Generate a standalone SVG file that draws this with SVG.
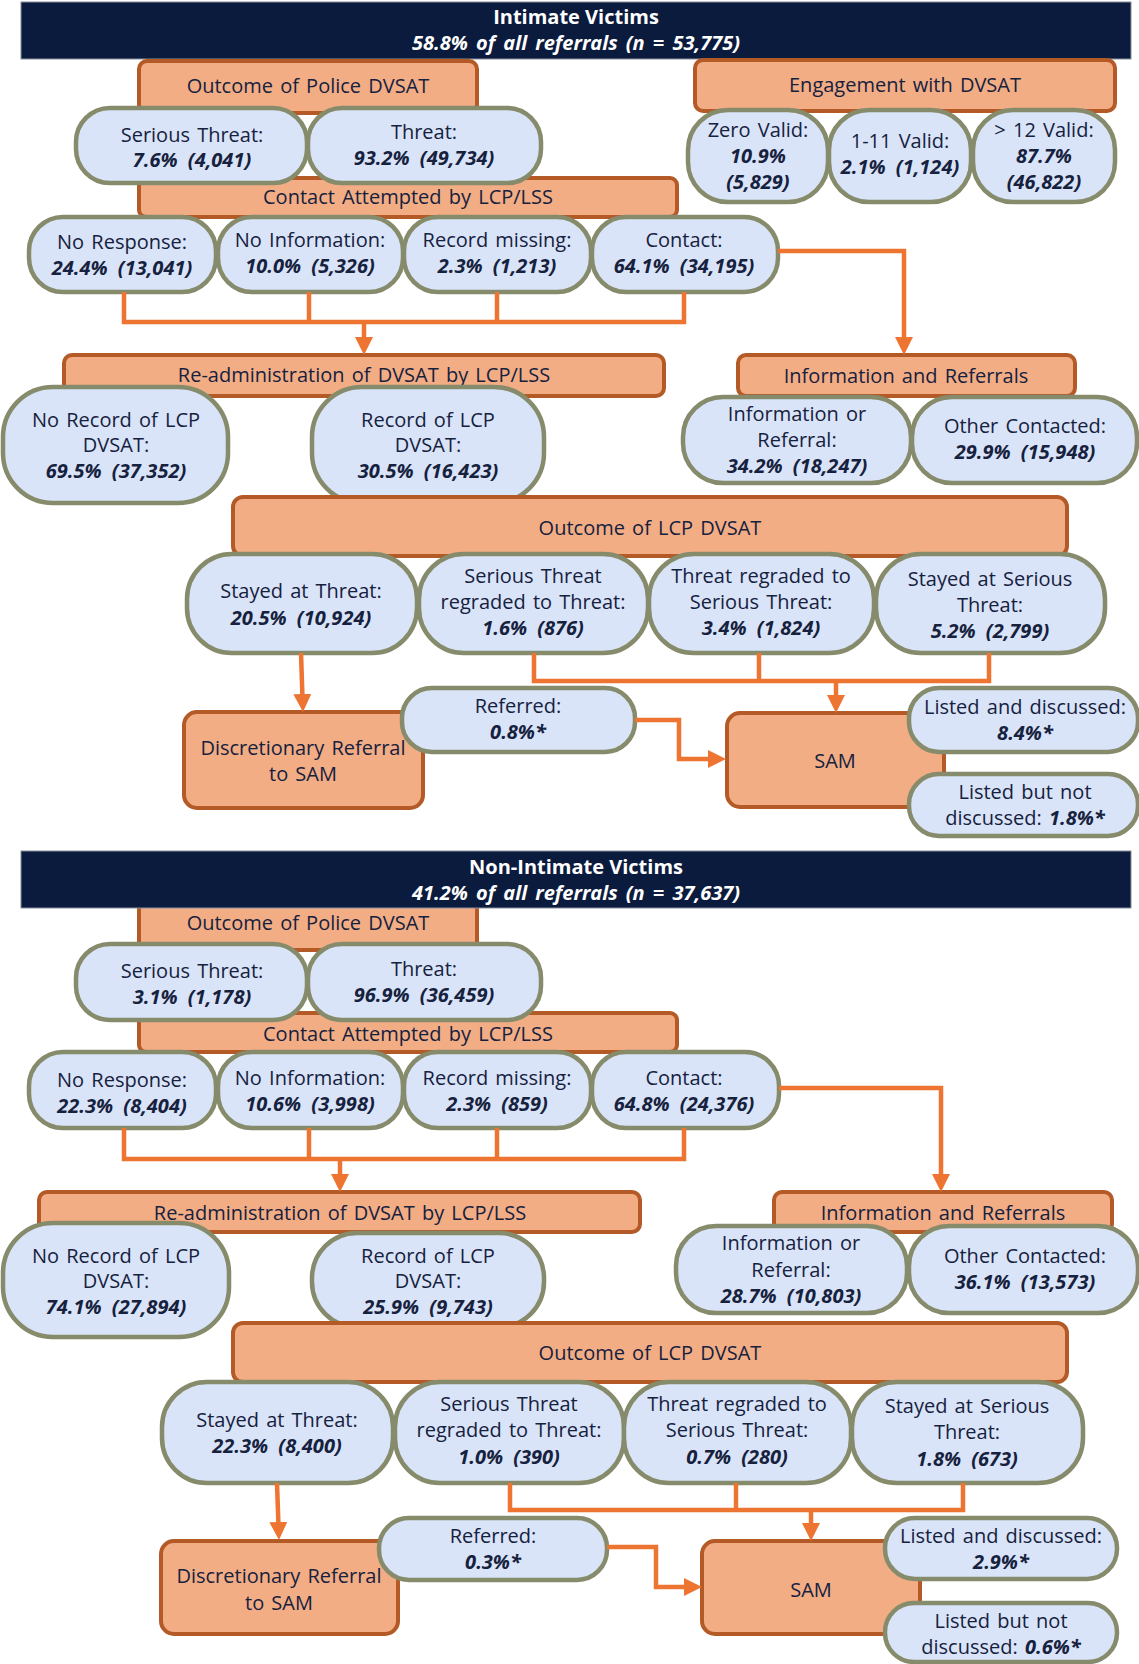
<svg xmlns="http://www.w3.org/2000/svg" width="1139" height="1664" viewBox="0 0 1139 1664">
<style>
.bg{fill:#ffffff}
.ban{fill:#0b1b3d;stroke:#8a909c;stroke-width:1}
.bt{font-family:"Open Sans","Noto Sans",sans-serif;font-size:20px;font-weight:bold;fill:#ffffff;text-anchor:middle}
.bi{font-style:italic;word-spacing:3px}
.box{fill:#f2ad85;stroke:#b35a27;stroke-width:4}
.pill{fill:#d9e4f8;stroke:#868b6b;stroke-width:4.5}
.t{font-family:"Open Sans","Noto Sans",sans-serif;font-size:20px;fill:#16213e;text-anchor:middle;word-spacing:2px}
.v{font-weight:bold;font-style:italic;word-spacing:5px}
.conn{fill:none;stroke:#ed7431;stroke-width:4.5;stroke-linejoin:miter}
</style>
<defs>
<marker id="ah" viewBox="0 0 18 18" refX="1" refY="9" markerWidth="18" markerHeight="18" markerUnits="userSpaceOnUse" orient="auto">
<path d="M0,0 L18,9 L0,18 z" fill="#ed7431"/>
</marker>
</defs>
<rect class="bg" x="0" y="0" width="1139" height="1664"/>

<!-- ===== Intimate Victims ===== -->
<g id="banner1">
<rect class="ban" x="21" y="2" width="1110" height="57"/>
<text class="bt" x="576" y="24">Intimate Victims</text>
<text class="bt bi" x="576" y="50">58.8% of all referrals (n = 53,775)</text>
</g>

<g id="n1-outcome-police"><rect class="box" x="139" y="61" width="338" height="52" rx="8"/><text class="t" x="308" y="93">Outcome of Police DVSAT</text></g>
<g id="n1-engagement"><rect class="box" x="695" y="60" width="420" height="51" rx="8"/><text class="t" x="905" y="92">Engagement with DVSAT</text></g>
<g id="n1-contact-attempted"><rect class="box" x="139" y="178" width="538" height="39" rx="7"/><text class="t" x="408" y="204">Contact Attempted by LCP/LSS</text></g>

<g id="n1-serious-threat"><rect class="pill" x="76" y="108" width="231" height="75" rx="34"/><text class="t" x="192" y="142">Serious Threat:</text><text class="t v" x="192" y="167">7.6% (4,041)</text></g>
<g id="n1-threat"><rect class="pill" x="308" y="108" width="233" height="75" rx="34"/><text class="t" x="424" y="139">Threat:</text><text class="t v" x="424" y="165">93.2% (49,734)</text></g>

<g id="n1-zero-valid"><rect class="pill" x="688" y="110" width="140" height="92" rx="40"/><text class="t" x="758" y="137">Zero Valid:</text><text class="t v" x="758" y="163">10.9%</text><text class="t v" x="758" y="189">(5,829)</text></g>
<g id="n1-1-11-valid"><rect class="pill" x="829" y="110" width="142" height="92" rx="40"/><text class="t" x="900" y="148">1-11 Valid:</text><text class="t v" x="900" y="174">2.1% (1,124)</text></g>
<g id="n1-12-valid"><rect class="pill" x="973" y="110" width="142" height="92" rx="40"/><text class="t" x="1044" y="137">&gt; 12 Valid:</text><text class="t v" x="1044" y="163">87.7%</text><text class="t v" x="1044" y="189">(46,822)</text></g>

<g id="n1-no-response"><rect class="pill" x="29" y="217" width="187" height="75" rx="34"/><text class="t" x="122" y="249">No Response:</text><text class="t v" x="122" y="275">24.4% (13,041)</text></g>
<g id="n1-no-information"><rect class="pill" x="218" y="217" width="185" height="75" rx="34"/><text class="t" x="310" y="247">No Information:</text><text class="t v" x="310" y="273">10.0% (5,326)</text></g>
<g id="n1-record-missing"><rect class="pill" x="404" y="217" width="187" height="75" rx="34"/><text class="t" x="497" y="247">Record missing:</text><text class="t v" x="497" y="273">2.3% (1,213)</text></g>
<g id="n1-contact"><rect class="pill" x="592" y="217" width="186" height="75" rx="34"/><text class="t" x="684" y="247">Contact:</text><text class="t v" x="684" y="273">64.1% (34,195)</text></g>

<g id="n1-readmin"><rect class="box" x="64" y="355" width="600" height="41" rx="8"/><text class="t" x="364" y="382">Re-administration of DVSAT by LCP/LSS</text></g>
<g id="n1-info-ref"><rect class="box" x="738" y="355" width="337" height="41" rx="8"/><text class="t" x="906" y="383">Information and Referrals</text></g>

<g id="n1-no-record"><rect class="pill" x="3" y="387" width="225" height="116" rx="50"/><text class="t" x="116" y="427">No Record of LCP</text><text class="t" x="116" y="452">DVSAT:</text><text class="t v" x="116" y="478">69.5% (37,352)</text></g>
<g id="n1-record"><rect class="pill" x="312" y="387" width="232" height="116" rx="50"/><text class="t" x="428" y="427">Record of LCP</text><text class="t" x="428" y="452">DVSAT:</text><text class="t v" x="428" y="478">30.5% (16,423)</text></g>
<g id="n1-info-or-ref"><rect class="pill" x="683" y="397" width="228" height="86" rx="40"/><text class="t" x="797" y="421">Information or</text><text class="t" x="797" y="447">Referral:</text><text class="t v" x="797" y="473">34.2% (18,247)</text></g>
<g id="n1-other-contacted"><rect class="pill" x="912" y="397" width="225" height="86" rx="40"/><text class="t" x="1025" y="433">Other Contacted:</text><text class="t v" x="1025" y="459">29.9% (15,948)</text></g>

<g id="n1-outcome-lcp"><rect class="box" x="233" y="497" width="834" height="59" rx="10"/><text class="t" x="650" y="535">Outcome of LCP DVSAT</text></g>

<g id="n1-stayed-threat"><rect class="pill" x="187" y="554" width="230" height="99" rx="45"/><text class="t" x="301" y="598">Stayed at Threat:</text><text class="t v" x="301" y="625">20.5% (10,924)</text></g>
<g id="n1-st-regraded"><rect class="pill" x="419" y="554" width="229" height="99" rx="45"/><text class="t" x="533" y="583">Serious Threat</text><text class="t" x="533" y="609">regraded to Threat:</text><text class="t v" x="533" y="635">1.6% (876)</text></g>
<g id="n1-t-regraded"><rect class="pill" x="649" y="554" width="225" height="99" rx="45"/><text class="t" x="761" y="583">Threat regraded to</text><text class="t" x="761" y="609">Serious Threat:</text><text class="t v" x="761" y="635">3.4% (1,824)</text></g>
<g id="n1-stayed-serious"><rect class="pill" x="876" y="554" width="229" height="99" rx="45"/><text class="t" x="990" y="586">Stayed at Serious</text><text class="t" x="990" y="612">Threat:</text><text class="t v" x="990" y="638">5.2% (2,799)</text></g>

<g id="n1-discretionary"><rect class="box" x="184" y="712" width="239" height="96" rx="13"/><text class="t" x="303" y="755">Discretionary Referral</text><text class="t" x="303" y="781">to SAM</text></g>
<g id="n1-sam"><rect class="box" x="727" y="713" width="217" height="94" rx="13"/><text class="t" x="835" y="768">SAM</text></g>
<g id="n1-referred"><rect class="pill" x="402" y="688" width="233" height="64" rx="30"/><text class="t" x="518" y="713">Referred:</text><text class="t v" x="518" y="739">0.8%*</text></g>
<g id="n1-listed-discussed"><rect class="pill" x="909" y="688" width="229" height="64" rx="30"/><text class="t" x="1025" y="714">Listed and discussed:</text><text class="t v" x="1025" y="740">8.4%*</text></g>
<g id="n1-listed-not"><rect class="pill" x="909" y="774" width="229" height="62" rx="30"/><text class="t" x="1025" y="799">Listed but not</text><text class="t" x="1025" y="825">discussed: <tspan class="v">1.8%*</tspan></text></g>

<!-- ===== Non-Intimate Victims ===== -->
<g id="n2-outcome-police"><rect class="box" x="139" y="895" width="338" height="55" rx="8"/><text class="t" x="308" y="930">Outcome of Police DVSAT</text></g>
<g id="banner2">
<rect class="ban" x="21" y="851" width="1110" height="57"/>
<text class="bt" x="576" y="874">Non-Intimate Victims</text>
<text class="bt bi" x="576" y="900">41.2% of all referrals (n = 37,637)</text>
</g>
<g id="n2-contact-attempted"><rect class="box" x="139" y="1013" width="538" height="39" rx="7"/><text class="t" x="408" y="1041">Contact Attempted by LCP/LSS</text></g>

<g id="n2-serious-threat"><rect class="pill" x="76" y="944" width="231" height="76" rx="34"/><text class="t" x="192" y="978">Serious Threat:</text><text class="t v" x="192" y="1004">3.1% (1,178)</text></g>
<g id="n2-threat"><rect class="pill" x="308" y="944" width="233" height="76" rx="34"/><text class="t" x="424" y="976">Threat:</text><text class="t v" x="424" y="1002">96.9% (36,459)</text></g>

<g id="n2-no-response"><rect class="pill" x="29" y="1052" width="187" height="76" rx="34"/><text class="t" x="122" y="1087">No Response:</text><text class="t v" x="122" y="1113">22.3% (8,404)</text></g>
<g id="n2-no-information"><rect class="pill" x="218" y="1052" width="185" height="76" rx="34"/><text class="t" x="310" y="1085">No Information:</text><text class="t v" x="310" y="1111">10.6% (3,998)</text></g>
<g id="n2-record-missing"><rect class="pill" x="404" y="1052" width="187" height="76" rx="34"/><text class="t" x="497" y="1085">Record missing:</text><text class="t v" x="497" y="1111">2.3% (859)</text></g>
<g id="n2-contact"><rect class="pill" x="592" y="1052" width="187" height="76" rx="34"/><text class="t" x="684" y="1085">Contact:</text><text class="t v" x="684" y="1111">64.8% (24,376)</text></g>

<g id="n2-readmin"><rect class="box" x="39" y="1192" width="601" height="40" rx="8"/><text class="t" x="340" y="1220">Re-administration of DVSAT by LCP/LSS</text></g>
<g id="n2-info-ref"><rect class="box" x="774" y="1192" width="338" height="40" rx="8"/><text class="t" x="943" y="1220">Information and Referrals</text></g>

<g id="n2-no-record"><rect class="pill" x="3" y="1223" width="226" height="114" rx="50"/><text class="t" x="116" y="1263">No Record of LCP</text><text class="t" x="116" y="1288">DVSAT:</text><text class="t v" x="116" y="1314">74.1% (27,894)</text></g>
<g id="n2-record"><rect class="pill" x="312" y="1233" width="232" height="94" rx="45"/><text class="t" x="428" y="1263">Record of LCP</text><text class="t" x="428" y="1288">DVSAT:</text><text class="t v" x="428" y="1314">25.9% (9,743)</text></g>
<g id="n2-info-or-ref"><rect class="pill" x="676" y="1226" width="231" height="87" rx="40"/><text class="t" x="791" y="1250">Information or</text><text class="t" x="791" y="1277">Referral:</text><text class="t v" x="791" y="1303">28.7% (10,803)</text></g>
<g id="n2-other-contacted"><rect class="pill" x="909" y="1226" width="229" height="87" rx="40"/><text class="t" x="1025" y="1263">Other Contacted:</text><text class="t v" x="1025" y="1289">36.1% (13,573)</text></g>

<g id="n2-outcome-lcp"><rect class="box" x="233" y="1323" width="834" height="59" rx="10"/><text class="t" x="650" y="1360">Outcome of LCP DVSAT</text></g>

<g id="n2-stayed-threat"><rect class="pill" x="162" y="1382" width="231" height="101" rx="45"/><text class="t" x="277" y="1427">Stayed at Threat:</text><text class="t v" x="277" y="1453">22.3% (8,400)</text></g>
<g id="n2-st-regraded"><rect class="pill" x="395" y="1382" width="229" height="101" rx="45"/><text class="t" x="509" y="1411">Serious Threat</text><text class="t" x="509" y="1437">regraded to Threat:</text><text class="t v" x="509" y="1464">1.0% (390)</text></g>
<g id="n2-t-regraded"><rect class="pill" x="624" y="1382" width="227" height="101" rx="45"/><text class="t" x="737" y="1411">Threat regraded to</text><text class="t" x="737" y="1437">Serious Threat:</text><text class="t v" x="737" y="1464">0.7% (280)</text></g>
<g id="n2-stayed-serious"><rect class="pill" x="852" y="1382" width="231" height="101" rx="45"/><text class="t" x="967" y="1413">Stayed at Serious</text><text class="t" x="967" y="1439">Threat:</text><text class="t v" x="967" y="1466">1.8% (673)</text></g>

<g id="n2-discretionary"><rect class="box" x="161" y="1541" width="237" height="93" rx="13"/><text class="t" x="279" y="1583">Discretionary Referral</text><text class="t" x="279" y="1610">to SAM</text></g>
<g id="n2-sam"><rect class="box" x="702" y="1541" width="218" height="93" rx="13"/><text class="t" x="811" y="1597">SAM</text></g>
<g id="n2-referred"><rect class="pill" x="379" y="1518" width="228" height="62" rx="30"/><text class="t" x="493" y="1543">Referred:</text><text class="t v" x="493" y="1569">0.3%*</text></g>
<g id="n2-listed-discussed"><rect class="pill" x="885" y="1518" width="232" height="61" rx="30"/><text class="t" x="1001" y="1543">Listed and discussed:</text><text class="t v" x="1001" y="1569">2.9%*</text></g>
<g id="n2-listed-not"><rect class="pill" x="885" y="1603" width="232" height="59" rx="29"/><text class="t" x="1001" y="1628">Listed but not</text><text class="t" x="1001" y="1654">discussed: <tspan class="v">0.6%*</tspan></text></g>

<!-- ===== Connectors ===== -->
<g id="connectors">
<path class="conn" d="M124,292 V322 H684 V292"/>
<path class="conn" d="M309,292 V322"/>
<path class="conn" d="M497,292 V322"/>
<path class="conn" d="M364,322 V338" marker-end="url(#ah)"/>
<path class="conn" d="M778,251 H904 V338" marker-end="url(#ah)"/>
<path class="conn" d="M301,653 L302.4,695" marker-end="url(#ah)"/>
<path class="conn" d="M534,653 V681 H989 V653"/>
<path class="conn" d="M759,653 V681"/>
<path class="conn" d="M836,681 V696" marker-end="url(#ah)"/>
<path class="conn" d="M635,720 H679 V759 H709" marker-end="url(#ah)"/>

<path class="conn" d="M124,1128 V1159 H684 V1128"/>
<path class="conn" d="M309,1128 V1159"/>
<path class="conn" d="M497,1128 V1159"/>
<path class="conn" d="M340,1159 V1175" marker-end="url(#ah)"/>
<path class="conn" d="M779,1088 H941 V1175" marker-end="url(#ah)"/>
<path class="conn" d="M277,1483 L278.4,1523" marker-end="url(#ah)"/>
<path class="conn" d="M510,1483 V1510 H963 V1483"/>
<path class="conn" d="M736,1483 V1510"/>
<path class="conn" d="M811,1510 V1524" marker-end="url(#ah)"/>
<path class="conn" d="M607,1547 H656 V1587 H685" marker-end="url(#ah)"/>
</g>
</svg>
